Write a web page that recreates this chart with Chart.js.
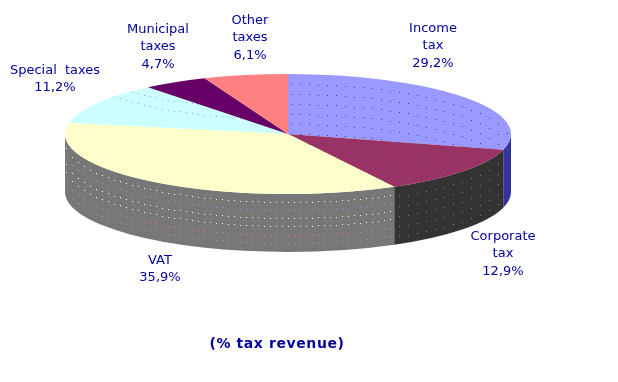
<!DOCTYPE html>
<html>
<head>
<meta charset="utf-8">
<style>
  html, body { margin: 0; padding: 0; background: #fff; }
  #wrap { width: 618px; height: 382px; }
</style>
<script src="https://cdn.jsdelivr.net/npm/chart.js@4/dist/chart.umd.min.js"></script>
</head>
<body>
<div id="wrap"><canvas id="taxChart"></canvas></div>
<script>
// tax revenue shares
const categories = ['Income tax', 'Corporate tax', 'VAT', 'Special taxes', 'Municipal taxes', 'Other taxes'];
const shares = [29.2, 12.9, 35.9, 11.2, 4.7, 6.1];
const labelLines = [['Income', 'tax'], ['Corporate', 'tax'], ['VAT'], ['Special taxes'], ['Municipal', 'taxes'], ['Other', 'taxes']];
const topColors = ['#9999ff', '#993366', '#ffffcc', '#ccffff', '#660066', '#ff8080'];
const sideColors = ['#333399', '#333333', '#777777', '#777777', '#777777', '#777777'];

// centre of each label block on the page
const labelCentres = [[433, 46], [503, 254], [160, 269], [55, 79], [158, 47], [250, 38]];

// how the flat pie is tilted
const tilt = { cx: 288, cy: 134, rx: 223, ry: 60, depth: 58 };
const inkColor = '#00009c';
const labelFont = '13px "DejaVu Sans"';
const labelLineHeight = 17.5;

// the old dithered look: rows of single pixel dots running along the rim
const wallDots = {
  1: { gap: 9, rows: [[10, '#888888'], [20, '#888888'], [30, '#888888'], [40, '#888888'], [50, '#888888']] },
  2: { gap: 6, rows: [[8, '#ffffcc'], [16, '#9999ff'], [24, '#ffffcc'], [32, '#ffffcc'], [41, '#ff8080'], [49, '#9999ff']] }
};
const faceDots = {
  0: { gap: 9, side: -1, color: '#333377', rows: [10, 20, 30, 40, 50, 60] },
  1: { gap: 9, side: -1, color: '#556677', rows: [60, 70, 80, 90, 100, 110] },
  3: { gap: 6, side: 1, color: '#9999ff', rows: [-85, -75] }
};

function dotRow(ctx, y0, side, color, gap) {
  ctx.fillStyle = color;
  for (let x = tilt.cx - tilt.rx + 1; x < tilt.cx + tilt.rx; x += gap) {
    const u = (x - tilt.cx) / tilt.rx;
    const y = y0 + side * tilt.ry * Math.sqrt(1 - u * u);
    ctx.fillRect(Math.round(x), Math.round(y), 1, 1);
  }
}

const tiltPlugin = {
  id: 'tilt',
  beforeDraw(chart) {
    chart.ctx.letterSpacing = '0.6px'; // only the title is drawn before the datasets
  },
  beforeDatasetsDraw(chart) {
    const ctx = chart.ctx;
    ctx.letterSpacing = '0px';
    const arcs = chart.getDatasetMeta(0).data;
    // side wall, only the front half of the rim can be seen
    arcs.forEach((arc, i) => {
      const from = Math.max(arc.startAngle, 0);
      const to = Math.min(arc.endAngle, Math.PI);
      if (to <= from) return;
      ctx.save();
      ctx.beginPath();
      ctx.ellipse(tilt.cx, tilt.cy, tilt.rx, tilt.ry, 0, from, to);
      ctx.ellipse(tilt.cx, tilt.cy + tilt.depth, tilt.rx, tilt.ry, 0, to, from, true);
      ctx.closePath();
      ctx.fillStyle = sideColors[i];
      ctx.fill();
      ctx.clip();
      const dots = wallDots[i];
      if (dots) {
        dots.rows.forEach(([drop, color]) => dotRow(ctx, tilt.cy + drop, 1, color, dots.gap));
      }
      ctx.restore();
    });
    // squash what the library draws next into the top face
    const first = arcs[0];
    ctx.save();
    ctx.translate(tilt.cx, tilt.cy);
    ctx.scale(tilt.rx / first.outerRadius, tilt.ry / first.outerRadius);
    ctx.translate(-first.x, -first.y);
  },
  afterDatasetsDraw(chart) {
    const ctx = chart.ctx;
    ctx.restore();
    const arcs = chart.getDatasetMeta(0).data;
    Object.keys(faceDots).forEach(i => {
      const dots = faceDots[i];
      ctx.save();
      ctx.beginPath();
      ctx.moveTo(tilt.cx, tilt.cy);
      ctx.ellipse(tilt.cx, tilt.cy, tilt.rx - 1, tilt.ry - 1, 0, arcs[i].startAngle, arcs[i].endAngle);
      ctx.closePath();
      ctx.clip();
      dots.rows.forEach(drop => dotRow(ctx, tilt.cy + drop, dots.side, dots.color, dots.gap));
      ctx.restore();
    });
    // labels
    ctx.save();
    ctx.font = labelFont;
    ctx.wordSpacing = '4px';
    ctx.fillStyle = inkColor;
    ctx.textAlign = 'center';
    ctx.textBaseline = 'middle';
    shares.forEach((v, i) => {
      const lines = labelLines[i].concat(v.toFixed(1).replace('.', ',') + '%');
      const top = labelCentres[i][1] - (lines.length - 1) * labelLineHeight / 2;
      lines.forEach((line, j) => {
        ctx.fillText(line, labelCentres[i][0], top + j * labelLineHeight);
      });
    });
    ctx.restore();
  }
};

new Chart(document.getElementById('taxChart'), {
  type: 'pie',
  data: {
    labels: categories,
    datasets: [{
      data: shares,
      backgroundColor: topColors,
      borderWidth: 0,
      clip: false
    }]
  },
  options: {
    responsive: true,
    maintainAspectRatio: false,
    animation: false,
    events: [],
    layout: { padding: { left: 0, right: 64, top: 0, bottom: 23 } },
    plugins: {
      legend: { display: false },
      tooltip: { enabled: false },
      title: {
        display: true,
        text: '(% tax revenue)',
        position: 'bottom',
        color: inkColor,
        font: { family: '"DejaVu Sans"', size: 14, weight: 'bold' },
        padding: { top: 0, bottom: 6 }
      }
    }
  },
  plugins: [tiltPlugin]
});
</script>
</body>
</html>
